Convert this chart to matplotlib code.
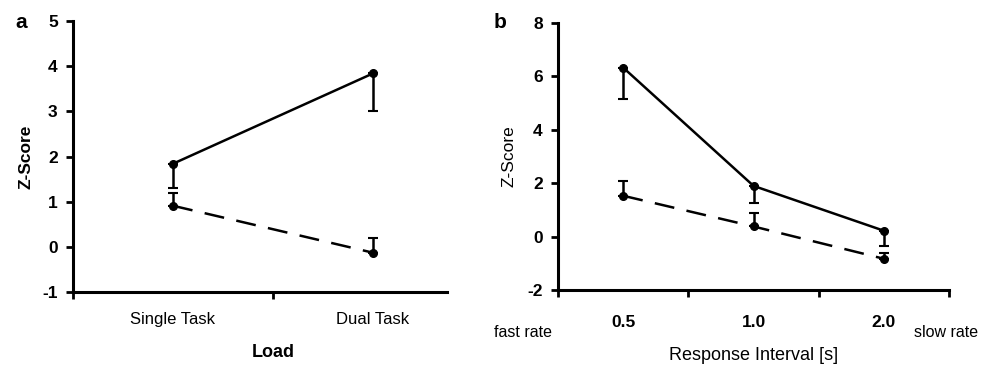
import numpy as np
import matplotlib.pyplot as plt

plt.rcParams['font.family'] = ['Liberation Sans', 'DejaVu Sans']
plt.rcParams['axes.unicode_minus'] = False

# panel a
load_labels = ["Single Task", "Dual Task"]
a_solid = [1.84, 3.84]
a_solid_err_lo = [0.53, 0.84]
a_dash = [0.91, -0.13]
a_dash_err_hi = [0.29, 0.33]

# panel b
interval_labels = ["0.5", "1.0", "2.0"]
b_solid = [6.33, 1.9, 0.22]
b_solid_err_lo = [1.16, 0.63, 0.56]
b_dash = [1.53, 0.38, -0.83]
b_dash_err_hi = [0.57, 0.5, 0.23]

fig = plt.figure(figsize=(9.85, 3.7), dpi=100)
axa = fig.add_axes([0.0741, 0.2108, 0.3797, 0.7324])
axb = fig.add_axes([0.5665, 0.2162, 0.3970, 0.7216])

lw = 1.8


def style(ax):
    for s in ["top", "right"]:
        ax.spines[s].set_visible(False)
    for s in ["left", "bottom"]:
        ax.spines[s].set_linewidth(2.2)
    ax.tick_params(axis="y", direction="out", length=5, width=2, labelsize=12.5, pad=6)
    ax.tick_params(axis="x", direction="out", length=5, width=2)
    for t in ax.get_yticklabels():
        t.set_fontweight("bold")


# ---- a ----
xa = np.arange(len(load_labels)) + 0.5
axa.errorbar(xa, a_solid, yerr=[a_solid_err_lo, [0, 0]], color="black", lw=lw,
             marker="o", ms=5.5, capsize=3.5, elinewidth=lw, capthick=1.5)
axa.errorbar(xa, a_dash, yerr=[[0, 0], a_dash_err_hi], color="black", lw=lw,
             marker="o", ms=5.5, capsize=3.5, elinewidth=lw, capthick=1.5,
             dashes=(8, 5))
axa.set_xlim(0, 1.87)
axa.set_ylim(-1, 5)
axa.set_xticks([0, 1])
axa.set_xticklabels([])
axa.set_yticks(range(-1, 6))
style(axa)
for x, lab in zip(xa, load_labels):
    axa.text(x, -1.6, lab, ha="center", va="center", fontsize=12)
axa.text(1.0, -2.35, "Load", ha="center", va="center", fontsize=13, fontweight="bold")
axa.set_ylabel("Z-Score", fontsize=12.5, fontweight="bold", labelpad=6)
fig.text(0.022, 0.94, "a", fontsize=15, fontweight="bold", ha="center", va="center")

# ---- b ----
xb = np.arange(len(interval_labels)) + 0.5
axb.errorbar(xb, b_solid, yerr=[b_solid_err_lo, [0, 0, 0]], color="black", lw=lw,
             marker="o", ms=5.5, capsize=3.5, elinewidth=lw, capthick=1.5)
axb.errorbar(xb, b_dash, yerr=[[0, 0, 0], b_dash_err_hi], color="black", lw=lw,
             marker="o", ms=5.5, capsize=3.5, elinewidth=lw, capthick=1.5,
             dashes=(8, 5))
axb.set_xlim(0, 3)
axb.set_ylim(-2, 8)
axb.set_xticks([0, 1, 2, 3])
axb.set_xticklabels([])
axb.set_yticks(range(-2, 9, 2))
style(axb)
for x, lab in zip(xb, interval_labels):
    axb.text(x, -3.2, lab, ha="center", va="center", fontsize=12.5, fontweight="bold")
axb.text(-0.27, -3.6, "fast rate", ha="center", va="center", fontsize=11.5)
axb.text(2.98, -3.6, "slow rate", ha="center", va="center", fontsize=11.5)
axb.text(1.5, -4.45, "Response Interval [s]", ha="center", va="center", fontsize=13)
axb.set_ylabel("Z-Score", fontsize=12.5, labelpad=8)
fig.text(0.508, 0.94, "b", fontsize=15, fontweight="bold", ha="center", va="center")

fig.savefig("out.png", dpi=100)
